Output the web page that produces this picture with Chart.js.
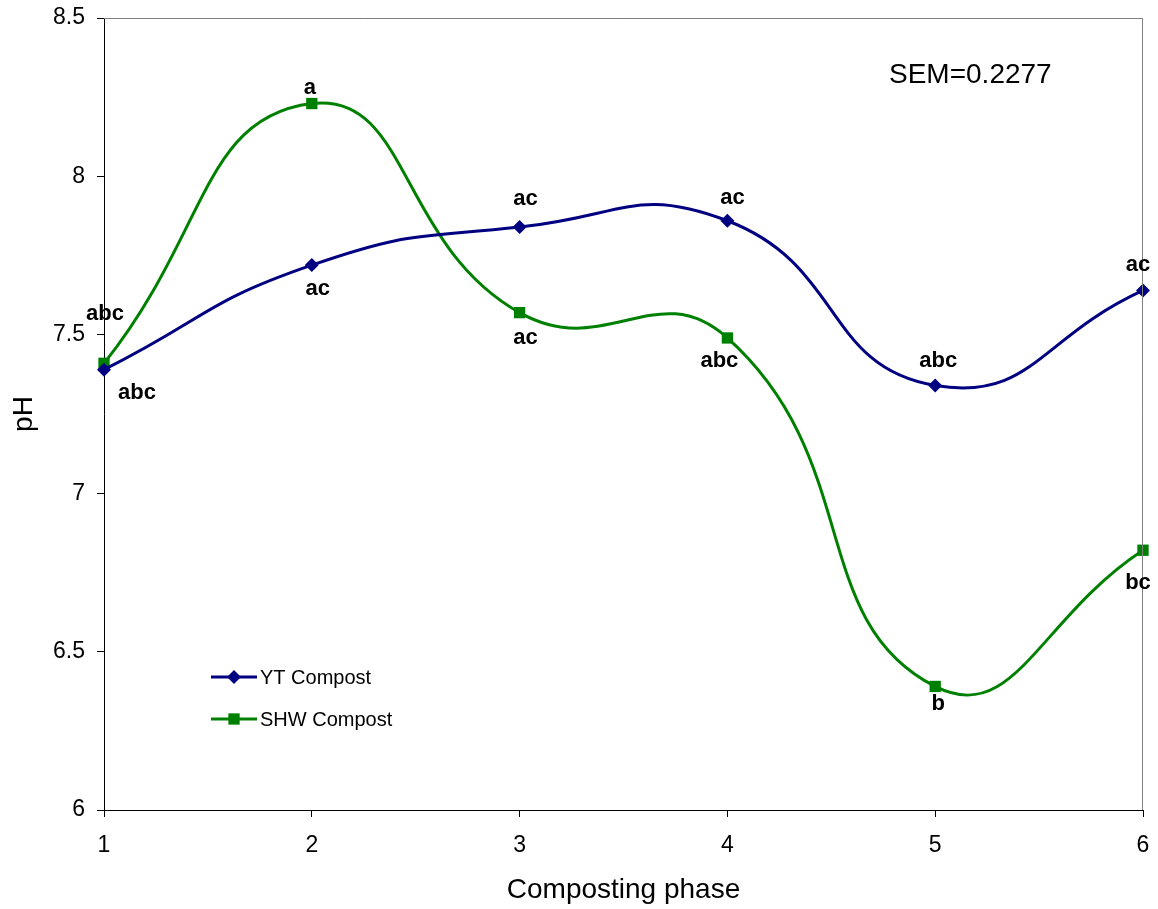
<!DOCTYPE html>
<html>
<head>
<meta charset="utf-8">
<script src="https://cdn.jsdelivr.net/npm/chart.js@4.4.1/dist/chart.umd.min.js"></script>
<style>
  html, body { margin: 0; padding: 0; background: #ffffff; }
  #wrap { width: 1158px; height: 909px; }
</style>
</head>
<body>
<div id="wrap"><canvas id="chart" width="1158" height="909"></canvas></div>
<script>
// pH over the composting phases
const phases = [1, 2, 3, 4, 5, 6];
const ytValues = [7.39, 7.72, 7.84, 7.86, 7.34, 7.64];
const shwValues = [7.41, 8.23, 7.57, 7.49, 6.39, 6.82];
const ytLetters = ['abc', 'ac', 'ac', 'ac', 'abc', 'ac'];
const shwLetters = ['abc', 'a', 'ac', 'abc', 'b', 'bc'];
const yTicks = [6, 6.5, 7, 7.5, 8, 8.5];
const xTicks = [1, 2, 3, 4, 5, 6];
const seriesNames = ['YT Compost', 'SHW Compost'];
const semText = 'SEM=0.2277';

// where each significance letter sits relative to its marker (px)
const ytLetterOffsets = [[33, 23], [6, 24], [6, -28], [5, -23], [3, -25], [-5, -26]];
const shwLetterOffsets = [[1, -49], [-2, -16], [6, 25], [-8, 23], [3, 17], [-5, 33]];

const FONT = "'Liberation Sans', Arial, sans-serif";
const NAVY = '#000080';
const GREEN = '#008000';

const toPoints = (vals) => phases.map((p, i) => ({ x: p, y: vals[i] }));

const decorations = {
  id: 'decorations',
  afterDraw(chart) {
    const ctx = chart.ctx;
    const area = chart.chartArea;
    ctx.save();

    // grey frame on the top and right of the plot area
    ctx.strokeStyle = '#808080';
    ctx.lineWidth = 1;
    ctx.beginPath();
    ctx.moveTo(area.left, area.top + 0.5);
    ctx.lineTo(area.right - 0.5, area.top + 0.5);
    ctx.lineTo(area.right - 0.5, area.bottom);
    ctx.stroke();

    // significance letters
    ctx.fillStyle = '#000';
    ctx.font = 'bold 22px ' + FONT;
    ctx.textAlign = 'center';
    ctx.textBaseline = 'middle';
    const sets = [[0, ytLetters, ytLetterOffsets], [1, shwLetters, shwLetterOffsets]];
    sets.forEach(([di, letters, offs]) => {
      const meta = chart.getDatasetMeta(di);
      meta.data.forEach((pt, i) => {
        ctx.fillText(letters[i], pt.x + offs[i][0], pt.y + offs[i][1]);
      });
    });

    // SEM note
    ctx.font = '28px ' + FONT;
    ctx.textAlign = 'left';
    ctx.textBaseline = 'alphabetic';
    ctx.fillText(semText, 889, 83);

    // legend inside the plot
    const rows = [
      { y: 677, color: NAVY, style: 'rectRot', radius: 7 },
      { y: 719, color: GREEN, style: 'rect', radius: 8 }
    ];
    ctx.font = '20px ' + FONT;
    ctx.textBaseline = 'middle';
    rows.forEach((r, i) => {
      ctx.strokeStyle = r.color;
      ctx.lineWidth = 3;
      ctx.beginPath();
      ctx.moveTo(211, r.y);
      ctx.lineTo(257, r.y);
      ctx.stroke();
      ctx.fillStyle = r.color;
      Chart.helpers.drawPoint(ctx, { pointStyle: r.style, radius: r.radius, rotation: 0, borderWidth: 0 }, 234, r.y);
      ctx.fillStyle = '#000';
      ctx.fillText(seriesNames[i], 260, r.y + 1);
    });

    ctx.restore();
  }
};

new Chart(document.getElementById('chart'), {
  type: 'line',
  data: {
    datasets: [
      {
        label: seriesNames[0],
        data: toPoints(ytValues),
        borderColor: NAVY,
        backgroundColor: NAVY,
        borderWidth: 3,
        pointStyle: 'rectRot',
        pointRadius: 7,
        pointBorderWidth: 0,
        tension: 0.5,
        clip: false
      },
      {
        label: seriesNames[1],
        data: toPoints(shwValues),
        borderColor: GREEN,
        backgroundColor: GREEN,
        borderWidth: 3,
        pointStyle: 'rect',
        pointRadius: 8,
        pointBorderWidth: 0,
        tension: 0.5,
        clip: false
      }
    ]
  },
  options: {
    responsive: false,
    animation: false,
    events: [],
    layout: { padding: { top: 18, right: 15, left: 0, bottom: 0 } },
    plugins: { legend: { display: false }, tooltip: { enabled: false } },
    scales: {
      x: {
        type: 'linear',
        min: 1,
        max: 6,
        afterBuildTicks: (s) => { s.ticks = xTicks.map(v => ({ value: v })); },
        afterFit: (s) => { s.height = 99; s.paddingLeft = 0; s.paddingRight = 0; },
        grid: { drawOnChartArea: false, tickLength: 7, tickColor: '#000', color: '#000' },
        border: { color: '#000', width: 1 },
        ticks: { color: '#000', font: { family: FONT, size: 23 }, padding: 15, maxRotation: 0, callback: (v) => String(v) },
        title: { display: true, text: 'Composting phase', color: '#000', font: { family: FONT, size: 28 }, padding: { top: 0, bottom: 2 } }
      },
      y: {
        type: 'linear',
        min: 6,
        max: 8.5,
        afterBuildTicks: (s) => { s.ticks = yTicks.map(v => ({ value: v })); },
        afterFit: (s) => { s.width = 104; s.paddingTop = 0; s.paddingBottom = 0; },
        grid: { drawOnChartArea: false, tickLength: 7, tickColor: '#000', color: '#000' },
        border: { color: '#000', width: 1 },
        ticks: { color: '#000', font: { family: FONT, size: 23 }, padding: 12, callback: (v) => String(v) },
        title: { display: true, text: 'pH', color: '#000', font: { family: FONT, size: 28 }, padding: { top: 7, bottom: 0 } }
      }
    }
  },
  plugins: [decorations]
});
</script>
</body>
</html>
